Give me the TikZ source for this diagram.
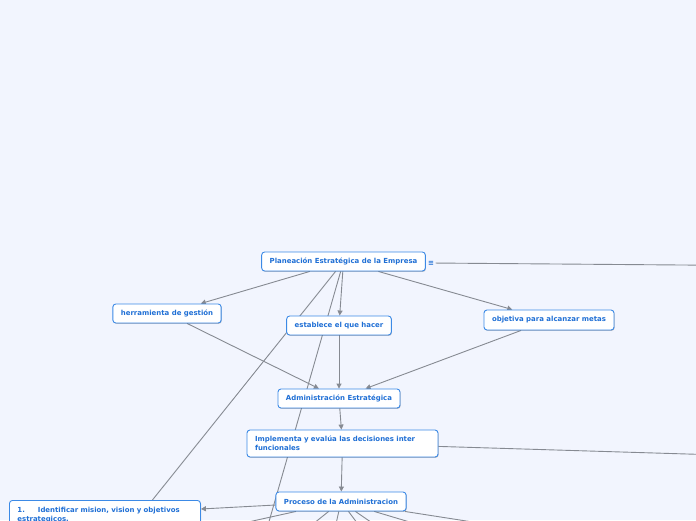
\documentclass[tikz,border=0pt]{standalone}
\usepackage{fontspec}
\setmainfont{DejaVu Sans}
\usetikzlibrary{arrows.meta,shadows,backgrounds}
\definecolor{mmblue}{HTML}{1F6FD5}
\definecolor{mmborder}{HTML}{3C8AE6}
\definecolor{mmline}{HTML}{868A92}
\definecolor{mmbg}{HTML}{F2F5FE}
\begin{document}
\begin{tikzpicture}[x=1pt, y=-1pt,
  box/.style={draw=mmborder, fill=white, rounded corners=3pt, line width=0.9pt,
    text=mmblue, font=\fontsize{6.95}{8.7}\selectfont\bfseries, inner xsep=8pt,
    minimum height=19pt,
    drop shadow={shadow xshift=0.6pt, shadow yshift=-0.8pt, opacity=0.25, fill=black}},
  link/.style={draw=mmline, line width=0.9pt},
  arr/.style={link, -{Triangle[length=5pt,width=5pt]}}]
  \useasboundingbox (0,0) rectangle (696,520);
  \clip (0,0) rectangle (696,520);
  \coordinate (pd) at (258,560);
  \coordinate (pr) at (720,265.3);
  \coordinate (ir) at (720,455);
  \coordinate (f1) at (76,560);
  \coordinate (f2) at (268,560);
  \coordinate (f3) at (328,560);
  \coordinate (f4) at (385,560);
  \coordinate (f5) at (426,560);
  \coordinate (f6) at (537,560);
  \coordinate (f7) at (717,560);
  \node[box, minimum width=163pt] (plan) at (343.5,261.5) {Planeación Estratégica de la Empresa};
  \node[text=mmblue, font=\fontsize{7}{8}\selectfont\bfseries, inner sep=1.5pt] (planicon) at (431,263) {≡};
  \node[box, minimum width=108pt] (herr) at (167,313.5) {herramienta de gestión};
  \node[box, minimum width=104pt] (est) at (339,325.5) {establece el que hacer};
  \node[box, minimum width=130pt, minimum height=20pt] (obj) at (549,320) {objetiva para alcanzar metas};
  \node[box, minimum width=122pt] (adm) at (339,398.5) {Administración Estratégica};
  \node[box, text width=175pt, align=left, minimum height=27pt] (impl) at (342.5,443.5)
    {Implementa y evalúa las decisiones inter\\funcionales};
  \node[box, minimum width=130pt] (proc) at (341,501.5) {Proceso de la Administracion};
  \node[box, anchor=north west, text width=175pt, align=left, inner ysep=7pt] (ident) at (9,500)
    {1.\hspace{13pt}Identificar mision, vision y objetivos\\estrategicos.};
  \begin{pgfonlayer}{background}
    \clip (0,0) rectangle (696,520);
    \fill[mmbg] (0,0) rectangle (696,520);
    \draw[arr] (plan) -- (herr);
    \draw[arr] (plan) -- (est);
    \draw[arr] (plan) -- (obj);
    \draw[link] (plan) -- ([xshift=47.5pt]ident.north);
    \draw[link] (plan) -- (pd);
    \draw[link] (planicon) -- (pr);
    \draw[arr] (herr) -- (adm);
    \draw[arr] (est) -- (adm);
    \draw[arr] (obj) -- (adm);
    \draw[arr] (adm) -- (impl);
    \draw[link] (impl) -- (ir);
    \draw[arr] (impl) -- (proc);
    \draw[arr] (proc) -- ([yshift=-9pt]ident.north east);
    \foreach \f in {f1,f2,f3,f4,f5,f6,f7}
      \draw[link] (proc) -- (\f);
  \end{pgfonlayer}
\end{tikzpicture}
\end{document}
